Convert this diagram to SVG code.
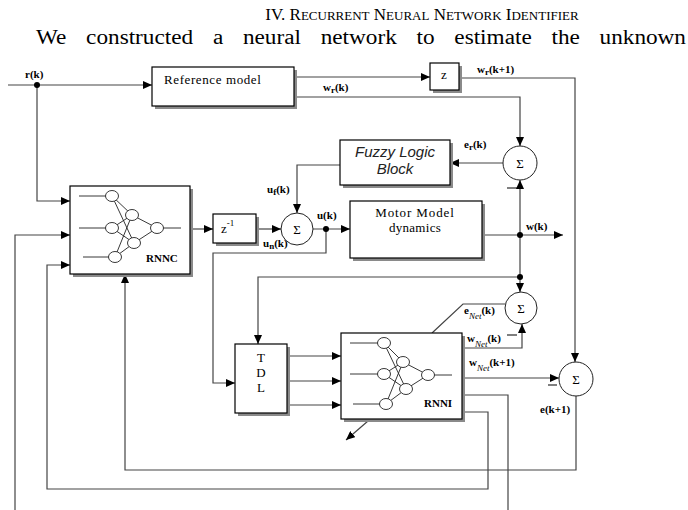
<svg xmlns="http://www.w3.org/2000/svg" width="688" height="510" viewBox="0 0 688 510">
<defs>
<marker id="ar" markerUnits="userSpaceOnUse" markerWidth="10" markerHeight="8" refX="9" refY="4" orient="auto">
<path d="M0,0 L9,4 L0,8 z" fill="#000"/>
</marker>
</defs>
<style>
.box{fill:#fff;stroke:#000;stroke-width:1.2}
.sh{fill:#8a8a8a}
.c{fill:none;stroke:#444;stroke-width:1.2}
.nn{fill:none;stroke:#222;stroke-width:0.9}
.nd{fill:#fff;stroke:#222;stroke-width:0.9}
.lb{font-family:"Liberation Serif",serif;font-weight:bold;font-size:11px;fill:#000}
.sub{font-style:italic;font-weight:normal;font-size:9px}
.bx{font-family:"Liberation Serif",serif;font-size:13px;fill:#000}
.sg{font-family:"Liberation Serif",serif;font-size:13px;fill:#000;text-anchor:middle}
.sum{fill:#fff;stroke:#222;stroke-width:1}
.dot{fill:#000}
.hd{font-family:"Liberation Serif",serif;fill:#000}
</style>
<rect width="688" height="510" fill="#fff"/>

<g id="heading">
<text class="hd" x="422" y="20" text-anchor="middle" font-size="17">IV. R<tspan font-size="13">ECURRENT</tspan> N<tspan font-size="13">EURAL</tspan> N<tspan font-size="13">ETWORK</tspan> I<tspan font-size="13">DENTIFIER</tspan></text>
<text class="hd" x="36" y="44" font-size="20" word-spacing="12" textLength="650" lengthAdjust="spacingAndGlyphs">We constructed a neural network to estimate the unknown</text>
</g>

<g id="connectors">
<path class="c" d="M8,85 H152" marker-end="url(#ar)"/>
<path class="c" d="M37,85 V201 H70" marker-end="url(#ar)"/>
<path class="c" d="M294,77 H430" marker-end="url(#ar)"/>
<path class="c" d="M294,97 H520 V146" marker-end="url(#ar)"/>
<path class="c" d="M460,78 H575 V362" marker-end="url(#ar)"/>
<path class="c" d="M503,163 H450" marker-end="url(#ar)"/>
<path class="c" d="M340,165 H297 V213" marker-end="url(#ar)"/>
<path class="c" d="M190,229 H213" marker-end="url(#ar)"/>
<path class="c" d="M256,229 H281" marker-end="url(#ar)"/>
<path class="c" d="M313,229 H350" marker-end="url(#ar)"/>
<path class="c" d="M326,229 V253 H213 V383 H235" marker-end="url(#ar)"/>
<path class="c" d="M482,235 H563" marker-end="url(#ar)"/>
<path class="c" d="M520,235 V180" marker-end="url(#ar)"/>
<path class="c" d="M520,235 V292" marker-end="url(#ar)"/>
<path class="c" d="M520,277 H258 V344" marker-end="url(#ar)"/>
<path class="c" d="M287,356 H341" marker-end="url(#ar)"/>
<path class="c" d="M287,381 H341" marker-end="url(#ar)"/>
<path class="c" d="M287,405 H341" marker-end="url(#ar)"/>
<path class="c" d="M505,304 H463 L432,333"/>
<path class="c" d="M462,348 H522 V324" marker-end="url(#ar)"/>
<path class="c" d="M462,378 H559" marker-end="url(#ar)"/>
<path class="c" d="M576,396 V470 H125 V274" marker-end="url(#ar)"/>
<path class="c" d="M462,395 H508 V510"/>
<path class="c" d="M462,412 H488 V489 H47 V265 H70" marker-end="url(#ar)"/>
<path class="c" d="M15,510 V235 H70" marker-end="url(#ar)"/>
<path class="c" d="M368,421 L346,440" marker-end="url(#ar)"/>
<circle class="dot" cx="37" cy="85" r="3"/>
<circle class="dot" cx="326" cy="229" r="3"/>
<circle class="dot" cx="520" cy="235" r="3"/>
<circle class="dot" cx="520" cy="277" r="3"/>
</g>

<g id="reference-model">
<rect class="sh" x="155" y="70" width="142" height="39"/>
<rect class="box" x="152" y="67" width="142" height="39"/>
<text class="bx" x="164" y="84" letter-spacing="0.6">Reference model</text>
</g>

<g id="z-block">
<rect class="sh" x="433" y="66" width="29" height="27"/>
<rect class="box" x="430" y="63" width="29" height="27"/>
<text class="bx" x="441" y="79">z</text>
</g>

<g id="fuzzy-logic-block">
<rect class="sh" x="343" y="143" width="110" height="45"/>
<rect class="box" x="340" y="140" width="110" height="45"/>
<text x="395" y="157" text-anchor="middle" font-family="Liberation Sans, sans-serif" font-style="italic" font-size="15" fill="#222">Fuzzy Logic</text>
<text x="395" y="174" text-anchor="middle" font-family="Liberation Sans, sans-serif" font-style="italic" font-size="15" fill="#222">Block</text>
</g>

<g id="z-inverse">
<rect class="sh" x="216" y="217" width="43" height="29"/>
<rect class="box" x="213" y="214" width="43" height="29"/>
<text class="bx" x="221" y="233" font-size="12">z<tspan font-size="9" dy="-7">-1</tspan></text>
</g>

<g id="motor-model">
<rect class="sh" x="353" y="204" width="132" height="57"/>
<rect class="box" x="350" y="201" width="132" height="57"/>
<text class="bx" x="415" y="217" text-anchor="middle" font-size="14" letter-spacing="0.9">Motor Model</text>
<text class="bx" x="415" y="232" text-anchor="middle" font-size="14" letter-spacing="0.3">dynamics</text>
</g>

<g id="rnnc">
<rect class="sh" x="73" y="189" width="120" height="88"/>
<rect class="box" x="70" y="186" width="120" height="88"/>
<path class="nn" d="M79,196 H106 M79,228 H106 M83,257 H109 M163,228 H181 M112,196 L132,215 M112,196 L134,243 M112,228 L132,215 M112,228 L134,243 M115,257 L132,215 M115,257 L134,243 M132,215 L157,228 M134,243 L157,228"/>
<ellipse class="nd" cx="112" cy="196" rx="6.5" ry="5.5"/>
<ellipse class="nd" cx="112" cy="228" rx="6.5" ry="5.5"/>
<ellipse class="nd" cx="115" cy="257" rx="6.5" ry="5.5"/>
<ellipse class="nd" cx="132" cy="215" rx="6.5" ry="5.5"/>
<ellipse class="nd" cx="134" cy="243" rx="6.5" ry="5.5"/>
<ellipse class="nd" cx="157" cy="228" rx="6.5" ry="5.5"/>
<text class="lb" x="146" y="262">RNNC</text>
</g>

<g id="tdl">
<rect class="sh" x="238" y="347" width="52" height="69"/>
<rect class="box" x="235" y="344" width="52" height="69"/>
<text class="bx" x="261" y="362" text-anchor="middle">T</text>
<text class="bx" x="261" y="377" text-anchor="middle">D</text>
<text class="bx" x="261" y="392" text-anchor="middle">L</text>
</g>

<g id="rnni">
<rect class="sh" x="344" y="336" width="121" height="86"/>
<rect class="box" x="341" y="333" width="121" height="86"/>
<path class="nn" d="M350,343 H378 M350,374 H378 M353,404 H380 M434,375 H452 M384,343 L403,362 M384,343 L406,389 M384,374 L403,362 M384,374 L406,389 M386,404 L403,362 M386,404 L406,389 M403,362 L428,375 M406,389 L428,375"/>
<ellipse class="nd" cx="384" cy="343" rx="6.5" ry="5.5"/>
<ellipse class="nd" cx="384" cy="374" rx="6.5" ry="5.5"/>
<ellipse class="nd" cx="386" cy="404" rx="6.5" ry="5.5"/>
<ellipse class="nd" cx="403" cy="362" rx="6.5" ry="5.5"/>
<ellipse class="nd" cx="406" cy="389" rx="6.5" ry="5.5"/>
<ellipse class="nd" cx="428" cy="375" rx="6.5" ry="5.5"/>
<text class="lb" x="424" y="407">RNNI</text>
</g>

<g id="sum-er">
<circle class="sum" cx="520" cy="163" r="17"/>
<text class="sg" x="520" y="168">Σ</text>
</g>
<g id="sum-u">
<circle class="sum" cx="297" cy="229" r="16"/>
<text class="sg" x="297" y="234">Σ</text>
</g>
<g id="sum-enet">
<circle class="sum" cx="521" cy="308" r="16"/>
<text class="sg" x="521" y="313">Σ</text>
</g>
<g id="sum-e">
<circle class="sum" cx="576" cy="379" r="17"/>
<text class="sg" x="576" y="384">Σ</text>
</g>

<g id="labels">
<text class="lb" x="25" y="78">r(k)</text>
<text class="lb" x="323" y="91">w<tspan font-size="9" dy="2">r</tspan><tspan dy="-2">(k)</tspan></text>
<text class="lb" x="477" y="73">w<tspan font-size="9" dy="2">r</tspan><tspan dy="-2">(k+1)</tspan></text>
<text class="lb" x="464" y="148">e<tspan font-size="9" dy="2">r</tspan><tspan dy="-2">(k)</tspan></text>
<text class="lb" x="267" y="193">u<tspan font-size="9" dy="2">f</tspan><tspan dy="-2">(k)</tspan></text>
<text class="lb" x="317" y="219">u(k)</text>
<text class="lb" x="263" y="247">u<tspan font-size="9" dy="2">n</tspan><tspan dy="-2">(k)</tspan></text>
<text class="lb" x="526" y="230">w(k)</text>
<text class="lb" x="464" y="314">e<tspan class="sub" dy="5">Net</tspan><tspan dy="-5">(k)</tspan></text>
<text class="lb" x="467" y="342">w<tspan class="sub" dy="5">Net</tspan><tspan dy="-5">(k)</tspan></text>
<text class="lb" x="469" y="366">w<tspan class="sub" dy="5">Net</tspan><tspan dy="-5">(k+1)</tspan></text>
<text class="lb" x="540" y="413">e(k+1)</text>
<path d="M507,188 H517 M507,335 H517 M548,385 H557" stroke="#000" stroke-width="1.2"/>
</g>
</svg>
